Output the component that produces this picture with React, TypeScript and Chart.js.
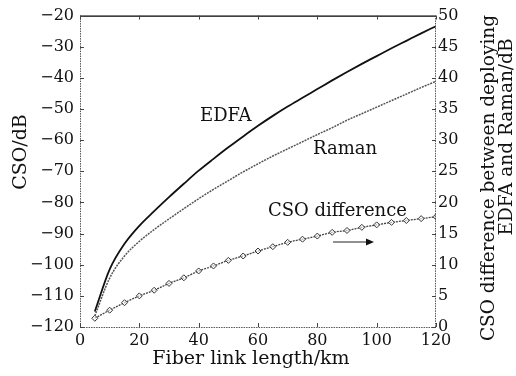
import React, { useEffect, useRef } from "react";
import { Chart, registerables } from "chart.js";

Chart.register(...registerables);

const lengthKm = [5, 10, 15, 20, 25, 30, 35, 40, 45, 50, 55, 60, 65, 70, 75, 80, 85, 90, 95, 100, 105, 110, 115, 120];
const edfaCso = [-115, -101.5, -93.3, -87.5, -82.8, -78.3, -74, -69.8, -66, -62.3, -58.8, -55.4, -52.2, -49.2, -46.4, -43.6, -40.8, -38.1, -35.5, -33, -30.5, -28.1, -25.7, -23.4];
const ramanCso = [-116.4, -104.3, -97.2, -92.5, -88.7, -85.3, -82, -78.8, -75.8, -73, -70.2, -67.6, -65.1, -62.8, -60.5, -58.2, -56, -53.6, -51.5, -49.4, -47.3, -45.2, -43.1, -41.1];
const csoDiff = [1.4, 2.7, 3.9, 5.0, 5.9, 7.0, 7.9, 9.0, 9.8, 10.7, 11.4, 12.2, 12.9, 13.6, 14.1, 14.6, 15.2, 15.5, 16.0, 16.4, 16.8, 17.1, 17.4, 17.7];

const xTicks = [0, 20, 40, 60, 80, 100, 120];
const leftTicks = [-120, -110, -100, -90, -80, -70, -60, -50, -40, -30, -20];
const rightTicks = [0, 5, 10, 15, 20, 25, 30, 35, 40, 45, 50];

const xTitle = "Fiber link length/km";
const leftTitle = "CSO/dB";
const rightTitle = ["CSO difference between deploying", "EDFA and Raman/dB"];
const labels = { edfa: "EDFA", raman: "Raman", diff: "CSO difference" };

const FONT = "'DejaVu Serif', serif";

const framePlugin = {
  id: "frame",
  afterDraw(chart: any) {
    const { ctx, chartArea: a, scales } = chart;
    const x = scales.x, yl = scales.y, yr = scales.y2;
    ctx.save();
    ctx.strokeStyle = "#000";
    ctx.lineWidth = 1.2;
    ctx.beginPath();
    ctx.moveTo(a.left, a.top + 0.5);
    ctx.lineTo(a.right, a.top + 0.5);
    ctx.stroke();
    ctx.strokeStyle = "#555";
    ctx.lineWidth = 1;
    ctx.setLineDash([1.5, 1]);
    ctx.beginPath();
    ctx.moveTo(a.left + 0.5, a.top);
    ctx.lineTo(a.left + 0.5, a.bottom + 0.5);
    ctx.lineTo(a.right - 0.5, a.bottom + 0.5);
    ctx.lineTo(a.right - 0.5, a.top);
    ctx.stroke();
    ctx.setLineDash([]);
    ctx.strokeStyle = "#444";
    ctx.lineWidth = 1;
    const tl = 4;
    ctx.beginPath();
    xTicks.forEach((v) => {
      const px = Math.round(x.getPixelForValue(v)) + 0.5;
      ctx.moveTo(px, a.bottom);
      ctx.lineTo(px, a.bottom - tl);
      ctx.moveTo(px, a.top);
      ctx.lineTo(px, a.top + tl);
    });
    leftTicks.forEach((v) => {
      const py = Math.round(yl.getPixelForValue(v)) + 0.5;
      ctx.moveTo(a.left, py);
      ctx.lineTo(a.left + tl, py);
    });
    rightTicks.forEach((v) => {
      const py = Math.round(yr.getPixelForValue(v)) + 0.5;
      ctx.moveTo(a.right, py);
      ctx.lineTo(a.right - tl, py);
    });
    ctx.stroke();

    ctx.fillStyle = "#111";
    ctx.font = `18px ${FONT}`;
    ctx.textAlign = "left";
    ctx.textBaseline = "middle";
    ctx.fillText(labels.edfa, 200, 116);
    ctx.fillText(labels.raman, 313, 149);
    ctx.fillText(labels.diff, 268, 211);
    ctx.strokeStyle = "#222";
    ctx.lineWidth = 1.2;
    ctx.beginPath();
    ctx.moveTo(333, 242);
    ctx.lineTo(368, 242);
    ctx.stroke();
    ctx.fillStyle = "#111";
    ctx.beginPath();
    ctx.moveTo(374, 242);
    ctx.lineTo(366, 238.5);
    ctx.lineTo(366, 245.5);
    ctx.closePath();
    ctx.fill();

    ctx.font = `19px ${FONT}`;
    ctx.textAlign = "center";
    ctx.textBaseline = "middle";
    ctx.fillText(xTitle, 251, 359);
    ctx.save();
    ctx.translate(21, 152);
    ctx.rotate(-Math.PI / 2);
    ctx.fillText(leftTitle, 0, 0);
    ctx.restore();
    ctx.font = `18.5px ${FONT}`;
    ctx.save();
    ctx.translate(489, 178);
    ctx.rotate(-Math.PI / 2);
    ctx.fillText(rightTitle[0], 0, 0);
    ctx.restore();
    ctx.save();
    ctx.translate(507, 137);
    ctx.rotate(-Math.PI / 2);
    ctx.fillText(rightTitle[1], 0, 0);
    ctx.restore();
    ctx.restore();
  },
};

const fmt = (v: number) => (v < 0 ? "\u2212" + Math.abs(v) : String(v));

export default function App() {
  const ref = useRef<HTMLCanvasElement>(null);
  useEffect(() => {
    if (!ref.current) return;
    const pts = (ys: number[]) => lengthKm.map((x, i) => ({ x, y: ys[i] }));
    const chart = new Chart(ref.current, {
      type: "line",
      data: {
        datasets: [
          {
            label: labels.edfa,
            data: pts(edfaCso),
            borderColor: "#111",
            borderWidth: 1.8,
            pointRadius: 0,
            cubicInterpolationMode: "monotone",
            yAxisID: "y",
          },
          {
            label: labels.raman,
            data: pts(ramanCso),
            borderColor: "#555",
            borderWidth: 1.5,
            borderDash: [2, 1],
            pointRadius: 0,
            cubicInterpolationMode: "monotone",
            yAxisID: "y",
          },
          {
            label: labels.diff,
            data: pts(csoDiff),
            borderColor: "#444",
            borderWidth: 1.3,
            borderDash: [2, 1],
            pointStyle: "rectRot",
            pointRadius: 3,
            pointBorderWidth: 1,
            pointBorderColor: "#333",
            pointBackgroundColor: "rgba(255,255,255,0.6)",
            cubicInterpolationMode: "monotone",
            yAxisID: "y2",
          },
        ],
      },
      options: {
        animation: false,
        responsive: false,
        devicePixelRatio: 1,
        layout: { padding: { top: 15, left: 0, right: 0, bottom: 0 } },
        plugins: { legend: { display: false }, tooltip: { enabled: false } },
        scales: {
          x: {
            type: "linear",
            min: 0,
            max: 120,
            afterFit: (s: any) => { s.height = 49; },
            afterBuildTicks: (s: any) => { s.ticks = xTicks.map((v) => ({ value: v })); },
            grid: { display: false, drawTicks: false },
            border: { display: false },
            ticks: { color: "#111", font: { family: FONT, size: 16 }, padding: 4, maxRotation: 0, callback: (v: any) => fmt(Number(v)) },
          },
          y: {
            position: "left",
            min: -120,
            max: -20,
            afterFit: (s: any) => { s.width = 80; },
            afterBuildTicks: (s: any) => { s.ticks = leftTicks.map((v) => ({ value: v })); },
            grid: { display: false, drawTicks: false },
            border: { display: false },
            ticks: { color: "#111", font: { family: FONT, size: 16 }, padding: 6, callback: (v: any) => fmt(Number(v)) },
          },
          y2: {
            position: "right",
            min: 0,
            max: 50,
            afterFit: (s: any) => { s.width = 80; },
            afterBuildTicks: (s: any) => { s.ticks = rightTicks.map((v) => ({ value: v })); },
            grid: { display: false, drawTicks: false },
            border: { display: false },
            ticks: { color: "#111", font: { family: FONT, size: 16 }, padding: 2, callback: (v: any) => fmt(Number(v)) },
          },
        },
      },
      plugins: [framePlugin],
    });
    return () => chart.destroy();
  }, []);
  return (
    <div style={{ position: "fixed", left: 0, top: 0, width: 516, height: 376, background: "#fff" }}>
      <canvas ref={ref} width={516} height={376} style={{ width: 516, height: 376, display: "block" }} />
    </div>
  );
}
